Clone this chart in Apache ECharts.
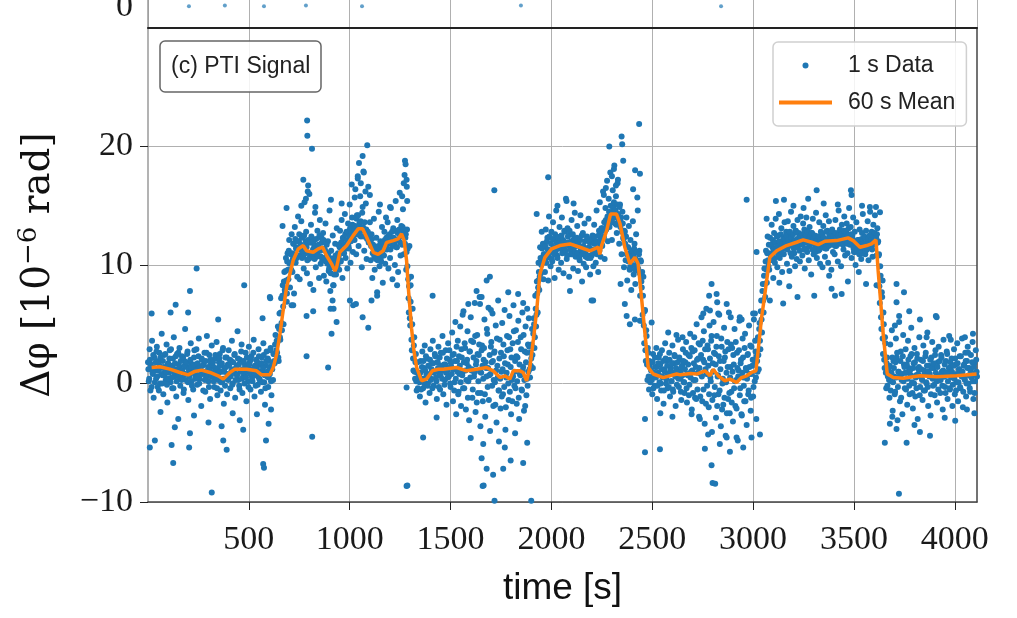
<!DOCTYPE html>
<html><head><meta charset="utf-8">
<script src="https://cdn.jsdelivr.net/npm/echarts@6/dist/echarts.min.js"></script>
<style>html,body{margin:0;padding:0;background:#fff}#c{width:1017px;height:618px}</style>
</head><body><div id="c"></div>
<script>
// ---------- data ----------
const SAMPLE_STEP = 4;   // seconds between plotted samples of the 1 s data
const FILL_OFFSET = 2;   // second pass of samples, between the first ones
const segmentStarts = [0, 640, 704, 1292, 1344, 1900, 1964, 2452, 2492, 3024, 3080, 3624, 3672];

const segBase1 = [1.8,0.2,2.9,-0.6,1.4,3.6,0.8,-1.2,2.2,1.1,0.4,3.1,-0.3,1.9,2.6,0.0,1.3,4.2,0.7,-0.9,
 2.4,1.0,0.3,3.3,-1.6,1.7,0.9,2.8,0.1,1.5,-0.4,2.1,3.9,0.6,1.2,-1.1,2.5,0.8,1.6,3.0,
 -0.2,1.1,2.3,0.5,-0.8,1.9,4.6,0.3,1.4,2.7,-1.4,0.9,1.8,3.4,0.2,1.0,-0.5,2.2,1.3,0.7,
 2.9,-0.1,1.5,3.8,0.4,1.2,-1.9,2.0,0.8,1.6,2.6,-0.7,0.5,4.0,1.1,0.2,2.4,-1.3,1.7,3.2,
 0.6,1.4,-0.3,2.1,0.9,3.5,-1.0,0.3,1.8,2.5,-0.6,1.0,0.1,3.0,-1.7,1.3,2.2,0.4,-0.9,1.6,
 2.8,0.7,-0.4,1.9,3.6,0.0,1.2,2.4,-1.2,0.8,1.5,4.4,0.3,-0.2,2.0,1.1,3.3,-0.8,0.6,1.7,
 0.9,2.6,-1.5,1.4,0.2,3.1,1.8,-0.5,2.3,0.5,1.0,3.7,-1.1,0.7,2.0,1.3,-0.1,2.9,0.4,1.6,
 -0.7,2.2,1.0,3.4,0.1,-1.8,1.5,2.7,0.6,-0.3,1.9,0.8,3.0,-1.0,1.2,0.3,2.5,1.7,4.1,2.8];
const segRise1 = [2.6,4.8,1.9,5.9,3.7,7.2,4.5,8.3,5.0,9.4,7.7,10.6,6.9,11.0,8.8,12.1];
const segHigh1 = [8.1,10.9,12.6,9.4,11.8,7.6,13.2,10.2,11.5,9.0,14.1,12.0,8.8,11.3,13.7,10.6,12.4,9.7,15.3,11.0,
 12.8,9.3,16.2,10.5,11.9,8.4,13.4,10.9,12.2,7.9,11.6,14.4,9.8,10.7,12.9,11.4,8.9,13.8,10.1,12.3,
 10.4,12.7,9.1,11.3,13.5,8.6,10.8,12.0,9.5,14.6,7.8,11.2,9.9,12.5,8.3,10.6,11.8,9.2,13.1,10.0,
 11.7,9.6,12.9,10.3,13.8,8.9,12.2,11.0,14.3,10.6,12.8,9.7,13.5,11.4,15.1,10.2,12.6,14.0,11.1,13.3,
 12.1,16.4,10.9,14.2,17.3,11.6,13.5,15.8,12.4,9.8,14.9,17.9,11.2,13.0,15.2,10.5,12.7,16.6,11.9,13.6,
 10.4,12.6,8.9,11.7,13.9,9.6,10.8,12.3,7.7,11.1,14.5,9.9,12.0,10.3,13.2,8.5,11.6,12.8,10.1,14.0,
 11.3,13.6,9.7,12.4,10.6,14.8,11.9,8.8,13.1,12.2,10.0,15.4,11.5,13.8,9.4,12.7,16.1,10.8,13.3,11.7,
 14.7,10.9,17.6,12.3,9.6,13.0,11.4];
const segDrop1 = [7.2,11.6,4.9,9.0,2.8,6.3,1.1,3.9,0.4,2.5,-0.6,1.8,0.9];
const segBase2 = [0.6,-1.1,1.9,0.2,2.7,-0.4,1.3,3.2,-1.6,0.8,2.1,0.0,1.5,-0.8,2.9,0.4,1.7,3.6,-0.2,1.0,
 2.3,0.5,-1.3,1.8,3.1,0.9,-0.5,2.6,1.2,4.0,-0.9,1.6,0.3,2.8,-1.8,1.1,3.4,0.6,2.0,-0.3,
 1.4,4.3,-1.5,2.5,0.1,5.2,-2.6,1.9,3.6,-0.7,0.8,4.8,-1.9,2.2,1.0,6.1,-0.4,3.0,-2.2,1.7,
 4.4,0.2,-3.1,2.7,5.6,1.1,-1.2,3.5,0.6,6.8,-2.4,1.9,4.1,-0.8,2.4,7.3,-3.6,0.9,3.2,-1.5,
 2.0,5.4,-2.8,1.3,4.6,-0.3,6.4,0.7,-4.0,3.1,1.8,5.9,-1.9,2.6,0.1,4.9,-3.3,1.5,7.0,-0.6,
 3.7,-2.1,1.0,5.1,-0.9,2.3,6.2,-3.9,0.5,4.0,1.6,-1.4,5.7,2.9,-2.6,0.3,3.4,6.6,-0.2,1.9,
 4.5,-1.7,2.2,5.3,-3.0,0.8,3.9,-0.5,6.0,1.4,-2.3,2.7,4.8,-1.0,0.4,3.3,5.5,1.2,2.6];
const segRise2 = [2.1,4.6,1.3,5.5,3.0,7.4,4.8,8.6,6.0,10.2,7.9,11.5,9.3,12.8,10.4,8.8];
const segHigh2 = [11.8,9.4,13.0,10.6,12.3,8.7,14.1,11.2,9.9,12.8,10.3,13.6,11.5,8.9,12.1,14.6,10.8,11.9,9.6,13.2,
 12.4,10.2,14.0,11.1,9.3,12.9,11.7,15.6,10.5,13.1,11.9,9.0,12.6,10.9,13.8,11.3,9.7,12.2,14.4,10.7,
 11.6,13.3,9.5,12.0,10.4,14.2,11.2,8.6,12.7,10.1,13.5,11.0,9.8,12.4,10.6,13.9,11.4,9.2,12.1,10.8,
 12.5,9.9,13.4,11.3,10.2,14.6,11.8,9.4,12.9,15.3,10.7,13.1,11.6,16.2,12.3,10.5,14.8,13.0,17.1,12.0,
 15.6,13.2,17.8,14.4,12.1,16.3,14.9,18.4,13.5,15.8,12.7,16.9,14.1,11.8,15.1,13.6,10.9,14.5,12.3,9.8,
 12.8,10.4,14.0,8.7,11.5,13.3,9.6,12.1,7.9,10.9,13.7,9.2,11.8,8.4,12.6,10.0,14.6,9.5,11.2,7.4,
 10.3,8.1];
const segDrop2 = [5.8,9.0,3.4,6.2,1.9,4.0,0.3,2.6,-0.5,1.4];
const segBase3 = [0.3,1.8,-0.9,2.5,0.7,-0.2,1.4,3.0,-1.3,0.9,2.2,0.1,1.6,-0.6,2.8,0.5,-1.7,1.2,3.4,0.0,
 1.9,-0.4,0.8,2.6,-1.1,1.3,0.2,3.2,-0.7,1.7,2.3,-1.9,0.6,1.1,3.7,-0.3,2.0,0.4,-1.4,1.5,
 2.9,0.1,-0.8,1.8,3.5,-1.6,0.7,2.4,-0.1,4.2,1.0,-2.2,2.7,0.3,3.9,-1.2,1.4,5.0,-0.5,2.1,
 -2.8,3.3,0.8,5.6,-1.5,2.0,4.4,-3.4,1.2,6.3,-0.2,2.9,-2.0,4.9,0.5,3.6,-4.1,1.7,5.2,-1.0,
 2.5,-2.9,4.0,0.6,-0.9,5.8,1.9,-3.6,3.1,0.0,-1.8,4.7,2.2,-4.4,0.9,3.5,-1.3,6.0,-2.5,1.4,
 -0.7,3.0,-3.2,1.6,4.6,-1.9,0.3,2.6,-4.8,1.1,5.3,-0.4,2.0,-2.7,3.8,0.5,-1.5,4.2,1.3,-3.5,
 2.4,-0.9,4.9,0.8,-2.3,3.1,1.5,-1.1,5.4,0.2,2.7,-3.0,1.9];
const segRise3 = [3.9,1.2,5.1,2.9,7.0,4.3,8.4,6.0,9.7,7.3,11.2,8.5,12.4,9.9];
const segHigh3 = [9.6,12.3,10.8,13.4,11.5,8.9,12.7,10.2,13.9,11.1,9.8,12.5,14.3,10.6,11.9,13.1,9.4,12.0,10.9,13.6,
 11.4,12.8,10.1,13.7,11.9,9.5,12.4,14.5,10.7,12.1,13.3,11.0,9.9,12.9,10.5,13.8,11.6,12.6,10.3,14.1,
 12.2,10.8,13.5,11.3,9.7,12.9,14.0,11.1,12.5,10.4,13.2,11.8,9.2,12.7,13.9,10.9,12.0,11.5,14.4,10.6,
 12.4,11.2,13.6,10.1,12.8,11.7,9.8,13.3,12.1,10.7,14.2,11.4,12.9,10.2,13.7,11.9,12.3,9.6,13.0,11.1,
 12.6,10.9,13.8,11.6,12.2,10.3,14.6,11.8,12.7,9.9,13.4,12.0,11.3,14.1,10.8,12.9,13.5,11.0,12.4,14.8,
 11.7,13.2,10.6,12.5,14.0,11.1,12.8,10.0,13.6,11.4,12.1,9.4,13.0,11.8,10.5,12.7,14.3,11.2,12.4,10.9,
 12.9,11.3,13.7,10.4,12.2,14.5,11.6,12.8,10.7,13.4,11.9,14.2,12.5,10.8,13.1,12.0];
const segDrop3 = [10.9,6.8,9.1,4.6,7.3,2.5,5.0,1.3,3.4,-0.4,2.2,0.6];
const segBase4 = [1.4,-1.2,3.3,0.2,4.5,-2.3,1.9,0.6,-0.7,3.8,2.2,-3.1,1.0,5.2,-1.5,2.7,0.3,-2.6,4.1,1.6,
 -0.4,2.9,0.9,-1.8,3.6,1.3,-0.9,2.3,4.7,0.1,-2.1,1.7,3.0,-1.1,0.7,2.5,-3.0,1.2,3.9,-0.3,
 2.0,0.4,-1.4,3.2,1.1,-0.6,2.6,0.0,4.3,-1.9,1.5,0.8,-2.7,2.2,3.5,-0.2,1.3,-1.0,2.8,0.5,
 -1.6,1.8,3.1,0.3,-0.8,2.4,1.0,-2.2,3.7,0.6,-0.3,1.9,2.7,-1.3,0.9,4.0,-0.5,1.4,2.1,-1.9,
 0.7,2.9,-0.9,1.6,0.1,3.4,-1.5,1.2,2.3,-0.4,0.8,3.8,-2.0,1.5,0.4,2.6,-1.1,1.9,3.1,0.0,
 1.3,-0.7,2.4,0.6,3.5,-1.3,1.7,0.2,2.8,1.0];

// second pass (samples 2 s later), mostly the dense core of the cloud
const fillBase1 = [1.2,0.4,2.0,1.6,-0.3,0.9,2.4,1.3,0.1,1.8,2.7,0.6,1.1,-0.6,1.5,2.2,0.8,0.0,1.9,1.4,
 0.7,2.5,1.0,-0.1,1.6,0.4,2.1,1.2,2.9,0.5,1.3,-0.4,0.9,1.7,2.3,0.2,1.0,2.6,0.6,1.4,
 1.9,0.3,1.1,2.2,-0.5,1.5,0.8,1.8,2.5,0.1,1.2,0.6,2.0,1.4,-0.2,0.9,1.6,2.8,0.4,1.1,
 0.5,1.7,2.3,0.0,1.3,0.8,2.1,1.5,-0.6,1.0,0.3,1.9,2.6,0.7,1.4,-0.3,1.1,2.0,0.6,1.6,
 1.8,0.2,1.0,2.4,0.5,-0.4,1.3,0.9,2.1,1.5,0.1,1.7,2.8,0.4,1.0,-0.2,1.4,2.2,0.8,0.3,
 1.5,2.0,0.6,1.1,-0.1,1.8,0.9,2.5,0.3,1.3,0.7,2.1,1.6,-0.5,1.0,2.7,0.4,1.2,1.9,0.0,
 1.4,0.5,2.2,1.0,-0.3,1.6,0.8,2.0,1.2,0.2,2.6,0.9,1.5,-0.2,1.1,1.8,0.6,2.3,0.3,1.0,
 1.7,0.1,1.3,2.4,0.7,-0.4,1.9,1.0,2.1,0.5,1.4,2.8,0.2,1.2,1.6,2.5,1.9,3.3,2.4,3.6];
const fillRise1 = [3.5,2.2,4.6,3.9,6.0,5.1,7.4,6.5,8.6,7.9,9.5,8.7,10.3,9.6,11.2,10.1];
const fillHigh1 = [10.2,9.6,11.0,10.5,11.8,10.9,12.2,11.4,10.6,12.0,11.3,12.6,10.8,11.7,12.3,11.1,10.7,12.5,11.6,12.0,
 11.5,10.4,12.1,11.0,10.6,11.9,12.4,10.9,11.3,12.0,10.5,11.6,12.2,11.1,10.8,11.7,12.5,11.2,10.7,11.9,
 11.4,12.1,10.6,11.2,10.3,11.7,10.1,11.0,9.7,10.6,9.3,10.2,9.8,10.5,9.2,10.0,10.8,9.6,10.3,11.0,
 10.8,11.5,10.4,11.9,11.2,12.3,11.0,11.7,12.6,11.4,12.1,12.8,11.6,12.4,13.1,12.0,12.7,13.4,12.2,12.9,
 13.3,12.6,13.9,12.8,14.2,13.1,12.5,13.7,12.9,14.4,13.2,12.4,13.6,12.7,13.0,12.2,12.8,11.9,12.5,12.0,
 11.6,12.2,11.0,11.5,10.7,11.3,10.5,11.1,10.4,11.6,10.9,11.2,10.6,11.8,11.0,11.5,10.8,12.1,11.4,12.3,
 11.7,12.4,11.9,12.6,11.3,12.0,12.8,11.6,12.3,11.8,12.9,12.1,11.5,12.7,12.2,13.0,11.9,12.5,12.8,13.2,
 12.4,13.0,11.8,12.6,11.1,9.9,8.8];
const fillDrop1 = [8.2,5.5,6.9,3.7,5.0,2.1,3.2,1.0,1.8,0.2,0.9,-0.4,0.5];
const fillBase2 = [0.1,0.9,-0.5,1.4,0.4,1.9,0.0,1.1,2.3,0.6,-0.2,1.5,0.8,2.0,0.3,1.2,-0.4,1.7,0.9,2.5,
 1.0,0.2,1.8,1.3,-0.3,2.2,0.7,1.5,0.4,2.6,1.1,-0.1,1.6,0.9,2.1,0.5,1.3,2.8,0.0,1.7,
 0.8,2.4,1.2,-0.6,1.9,0.4,3.1,1.0,-0.9,2.3,1.5,0.1,2.9,0.7,-0.4,1.8,3.4,1.1,0.3,2.0,
 -1.2,1.4,2.7,0.5,3.6,1.2,-0.5,2.2,0.9,4.0,1.6,-1.6,2.5,0.2,3.3,1.0,-0.8,2.8,1.5,0.4,
 3.0,-0.9,1.8,0.6,4.2,1.3,-1.4,2.4,0.8,3.5,-0.2,1.9,0.3,2.7,-1.8,1.1,3.8,0.5,-0.6,2.1,
 0.4,2.6,-1.1,1.2,3.3,-0.3,1.7,-2.0,0.9,2.8,0.0,3.9,-0.7,1.4,2.2,-1.5,0.6,4.4,1.0,-0.4,
 2.3,0.2,3.5,-1.2,1.6,0.7,2.9,-0.6,1.1,4.1,0.3,-1.9,1.8,2.6,-0.2,1.0,3.1,0.5,1.5];
const fillRise2 = [3.3,2.4,4.2,5.0,3.9,6.3,5.8,7.6,8.1,9.4,9.0,10.6,10.0,11.4,11.8,10.9];
const fillHigh2 = [10.9,11.6,10.2,12.0,11.3,10.7,12.4,11.1,11.8,10.5,12.2,11.5,10.9,12.6,11.2,11.9,10.6,12.3,11.4,12.0,
 11.7,12.5,11.0,12.1,11.4,12.8,11.2,11.9,10.8,12.4,11.6,12.9,11.3,12.0,10.9,12.6,11.5,12.2,11.1,11.8,
 12.3,11.0,11.7,10.6,12.1,11.3,12.5,10.9,11.6,11.2,12.0,10.7,11.4,12.2,10.8,11.5,11.9,10.6,11.3,12.1,
 11.0,11.8,12.4,11.3,12.0,10.9,11.6,12.5,11.2,12.1,12.8,11.7,13.1,12.4,13.6,12.9,13.8,13.3,14.1,13.6,
 14.5,13.8,15.0,14.2,13.6,14.8,15.3,14.0,14.6,13.4,15.1,14.3,13.8,14.9,13.2,14.0,12.8,13.5,12.2,12.9,
 11.8,12.4,10.9,11.5,10.3,11.0,9.8,10.6,11.2,10.0,10.8,11.4,9.6,10.5,11.1,10.2,9.7,10.9,9.3,10.4,
 8.6,9.4];
const fillDrop2 = [7.4,4.9,6.1,2.8,4.5,1.6,3.0,0.6,1.9,0.1];
const fillBase3 = [1.1,0.3,1.8,-0.4,0.9,2.2,0.5,1.4,-0.2,1.7,0.7,2.5,0.0,1.2,0.6,1.9,-0.6,1.0,2.1,0.4,
 1.5,0.8,-0.3,2.0,1.1,0.2,1.7,-0.5,0.9,2.4,0.6,1.3,-0.1,1.8,0.4,2.2,1.0,-0.7,1.4,0.7,
 1.9,0.1,1.2,2.6,-0.4,0.8,1.6,-1.0,2.3,0.5,3.0,1.1,-0.8,1.7,2.8,0.3,-1.3,2.0,0.9,3.4,
 1.3,-1.1,2.4,0.6,3.6,-0.5,1.8,2.9,-1.7,0.8,3.2,1.5,-0.9,2.1,0.2,4.0,-1.4,1.0,2.6,-0.3,
 1.6,3.1,-1.9,0.7,2.3,-0.6,1.2,3.8,-2.2,0.4,1.9,-1.2,2.7,0.1,-2.5,1.4,2.9,-0.8,0.5,3.3,
 -1.6,1.0,2.4,-0.4,0.2,3.5,-2.1,1.3,0.6,2.8,-1.0,1.7,-2.6,0.9,2.2,-0.2,3.0,-1.5,1.1,0.4,
 2.5,-0.6,1.4,3.2,-1.2,0.8,2.0,-0.3,1.6,3.6,0.5,2.3,1.0];
const fillRise3 = [2.4,4.6,3.6,6.1,5.4,7.8,7.0,9.1,8.4,10.3,9.6,11.0,10.4,11.7];
const fillHigh3 = [11.0,10.4,11.7,10.9,12.1,11.3,10.6,11.9,11.2,12.4,11.6,10.8,12.0,11.4,12.6,11.1,11.8,12.3,11.5,12.2,
 11.9,12.5,11.3,12.1,11.6,12.8,11.0,12.3,11.7,12.6,11.4,12.0,12.9,11.5,12.2,11.8,12.7,11.2,12.4,11.9,
 12.6,11.7,12.3,13.0,11.9,12.5,11.4,12.8,12.1,11.6,12.4,11.9,12.7,11.3,12.2,11.8,12.5,11.1,12.0,11.6,
 11.9,12.4,11.3,12.1,11.7,12.6,11.5,12.3,12.0,11.4,12.8,11.8,12.2,11.6,12.5,12.0,11.7,12.9,11.9,12.4,
 12.1,11.6,12.7,12.3,11.8,12.5,12.0,13.0,11.9,12.6,12.2,11.7,12.9,12.4,12.0,12.8,11.8,12.5,13.1,12.3,
 12.0,12.6,11.7,12.2,11.4,11.9,11.1,12.0,11.6,11.3,12.1,10.9,11.7,11.4,12.2,11.0,11.8,11.5,12.3,11.2,
 11.9,11.4,12.2,11.6,12.5,11.8,12.1,11.3,12.4,12.0,12.7,11.7,12.3,12.6,11.9,10.8];
const fillDrop3 = [8.2,9.9,5.6,7.7,3.8,6.0,2.0,3.9,0.9,1.7,-0.2,1.2];
const fillBase4 = [0.3,1.5,-0.6,0.9,2.2,0.1,1.3,-0.9,1.8,0.5,2.6,-0.3,1.0,0.6,1.9,-1.2,0.8,2.3,0.2,1.4,
 0.9,-0.5,1.6,0.4,2.0,-0.2,1.1,0.7,2.5,-0.8,1.3,0.0,1.8,0.5,-0.4,2.1,0.8,1.4,-1.0,0.6,
 1.2,0.3,1.9,-0.6,0.8,2.3,0.1,1.5,-0.3,1.0,0.6,2.0,-0.9,1.3,0.4,1.7,-0.1,2.4,0.9,0.2,
 1.4,-0.5,0.7,1.9,0.3,2.2,-0.2,1.1,0.6,1.6,-0.8,0.9,2.5,0.2,1.3,-0.4,1.8,0.5,1.0,-0.1,
 1.5,0.4,2.1,-0.6,0.8,1.7,0.1,1.2,-0.3,2.3,0.6,1.0,-0.7,1.6,0.3,1.9,0.0,1.3,2.6,0.7,
 -0.4,1.1,0.5,1.8,0.2,1.4,-0.8,0.9,2.0,0.6];

const segmentValues = [segBase1, segRise1, segHigh1, segDrop1, segBase2, segRise2, segHigh2,
  segDrop2, segBase3, segRise3, segHigh3, segDrop3, segBase4];
const fillValues = [fillBase1, fillRise1, fillHigh1, fillDrop1, fillBase2, fillRise2, fillHigh2,
  fillDrop2, fillBase3, fillRise3, fillHigh3, fillDrop3, fillBase4];

// individually read outlying points of the 1 s data
const outlierTimes = [9,34,117,125,204,208,316,373,390,472,571,575,585,133,18,112,137,199,208,241,348,477,568,604,606,
 62,150,228,300,365,420,455,540,598,610,
 789,790,813,770,794,783,687,667,907,1046,1064,1087,1274,1277,1282,1283,1285,689,720,819,918,915,920,1001,1017,1064,1108,1136,1235,712,786,905,910,935,893,814,786,1031,1092,1040,1055,1070,1078,1100,1010,1025,760,800,830,960,1260,1268,1150,1200,
 1282,1282,1302,1293,1411,1286,1717,1695,1679,1629,1588,1654,1646,1786,1835,1860,1364,1431,1662,1654,1659,1679,1711,1769,1798,1761,1860,1718,1900,1664,1600,1740,1820,1880,1560,1700,1880,
 2435,2348,2351,2287,2356,2439,1984,2075,1927,2426,1935,2092,2207,2343,2364,2373,2439,2199,2389,2414,2447,2300,2310,2320,2330,2270,2260,2405,2415,2030,2110,
 2464,2464,2538,2579,2794,2782,2819,2822,2786,2753,2869,2827,2968,3009,2943,2889,2761,2794,2799,2812,2835,2885,2951,2869,2918,2992,3034,2777,2736,2695,2497,3000,2934,2540,2600,2650,2620,
 3315,3485,3488,3113,3153,3273,3579,3609,3629,3067,3017,3083,3149,3179,3220,3303,3389,3439,3406,3377,3612,3642,3200,3350,3420,3540,3250,3130,3470,3560,
 3711,3748,3711,3774,3910,3827,3724,3906,3703,4050,3653,3723,3761,3877,3827,3678,3711,4002,4097,3690,3800,3950,4060,3860,3980,4090];
const outlierValues = [-5.4,-4.8,-5.2,-6.7,-5.4,-4.2,-9.2,-4.8,-5.6,-3.9,-6.8,-7.1,-4.8,-3.7,5.9,6.0,6.65,6.0,7.8,9.7,5.4,8.3,5.5,7.3,7.2,
 -2.4,-3.0,-2.7,-3.3,-3.6,-2.5,-3.1,-2.6,-3.4,-2.2,
 22.2,20.9,19.8,17.2,16.7,15.6,14.8,13.3,15.5,18.6,19.2,20.1,18.8,18.5,17.2,16.6,15.4,7.6,6.6,6.1,8.3,7.0,6.3,7.0,6.6,5.6,7.0,7.4,8.3,6.6,5.7,6.3,4.2,5.2,1.35,-4.5,2.3,6.7,4.7,17.5,16.9,17.8,16.2,15.9,16.8,15.7,15.0,16.0,14.9,15.2,15.8,16.9,15.1,14.9,
 -8.65,-0.34,8.3,6.0,7.4,-8.6,16.3,9.0,8.7,7.8,6.7,7.3,6.7,7.7,7.55,6.8,-4.56,-2.87,-5.1,-6.3,-8.65,-7.2,-7.7,-5.4,-6.5,-7.2,-6.7,-9.9,-9.9,-8.6,-4.6,-4.9,-4.2,-5.0,5.8,6.2,6.3,
 21.9,20.85,20.2,20.0,18.8,17.7,17.4,15.4,14.3,15.7,8.7,7.8,7.0,8.4,6.7,5.7,5.3,7.0,5.0,5.4,5.3,17.5,18.1,16.7,17.2,16.5,15.9,16.4,18.0,15.0,15.2,
 -3.0,-5.8,-5.55,4.3,8.4,7.4,7.55,6.85,6.15,5.9,6.7,5.9,15.5,5.9,5.4,5.6,-5.5,-6.9,-8.4,-8.45,-5.1,-5.75,-5.4,-4.56,-4.56,-4.56,-4.3,-4.3,-3.0,-2.6,5.15,5.9,5.6,-2.5,-2.8,3.9,4.1,
 16.3,16.3,15.9,15.4,15.5,15.6,14.9,14.9,14.45,13.9,11.1,7.0,6.76,8.2,7.3,7.4,8.0,7.55,7.4,9.1,8.3,8.7,15.0,15.2,15.1,15.0,14.8,8.5,8.6,8.4,
 8.4,7.7,6.85,6.1,5.6,5.4,5.7,5.7,4.9,3.9,-5.0,-9.3,-5.0,-4.4,-4.1,-3.4,-3.85,-3.15,-2.5,-2.8,-3.5,-2.9,-2.2,3.9,3.7,4.2];

// 60 s running mean (orange line)
const meanTimes = [18,59,108,158,199,232,266,307,348,373,406,431,489,538,563,604,621,638,654,670,687,720,745,770,786,819,844,866,885,910,927,935,951,985,1017,1042,1064,1084,1117,1141,1166,1183,1216,1240,1257,1270,1282,1292,1307,1318,1332,1356,1381,1410,1440,1464,1530,1580,1629,1679,1711,1745,1769,1794,1811,1844,1860,1877,1893,1910,1927,1943,1968,2001,2042,2092,2141,2191,2232,2240,2249,2274,2293,2323,2340,2364,2389,2414,2430,2447,2464,2480,2505,2554,2621,2640,2690,2720,2761,2786,2802,2827,2860,2885,2918,2943,2968,2992,3014,3025,3042,3054,3067,3083,3117,3166,3216,3248,3290,3323,3356,3414,3471,3496,3530,3563,3587,3609,3620,3632,3645,3665,3695,3744,3827,3910,4009,4108];
const meanValues = [1.35,1.41,1.21,0.93,0.73,1.02,1.13,0.93,0.65,0.37,0.93,1.21,1.21,1.07,0.73,0.73,1.35,2.48,4.17,6.15,8.1,10.4,11.36,11.64,11.2,11.07,11.36,11.5,10.8,10.1,9.5,9.8,11.07,11.64,12.48,13.05,13.05,12.34,11.07,10.9,11.2,11.9,12.06,12.2,12.63,12.06,10.37,7.8,4.6,2.8,1.35,0.23,0.37,1.07,1.2,1.2,1.35,1.07,1.2,1.35,1.07,0.5,0.65,0.37,1.07,1.07,0.93,0.23,1.35,3.6,6.15,9.25,10.65,11.36,11.64,11.78,11.5,11.2,11.5,10.9,11.64,12.9,14.3,14.3,13.5,11.5,10.1,10.65,10.1,7.2,4.2,1.35,0.8,0.5,0.8,0.73,0.85,0.8,1.07,0.65,1.2,0.65,0.23,0.37,0.08,0.5,0.65,0.93,1.07,2.77,5.58,7.0,8.68,10.65,11.2,11.64,11.92,12.12,11.92,11.72,12.0,12.06,12.29,12.06,11.5,11.64,11.78,12.12,9.5,7.0,4.17,0.8,0.5,0.45,0.65,0.56,0.65,0.8];

// points of the panel above that show in the top strip
const upperTimes = [203,381,575,783,1061,1849,2841];
const upperValues = [0.1,0.2,0.1,0.2,0.1,0.2,0.1];

// axis ticks
const xTickLabels = [500,1000,1500,2000,2500,3000,3500,4000];
const yTickLabels = [-10,0,10,20];
const X_MAX = 4110;

// ---------- build series data ----------
const scatterData = [];
segmentValues.forEach((arr, k) => {
  arr.forEach((v, i) => scatterData.push([segmentStarts[k] + i * SAMPLE_STEP, v]));
});
fillValues.forEach((arr, k) => {
  arr.forEach((v, i) => scatterData.push([segmentStarts[k] + FILL_OFFSET + i * SAMPLE_STEP, v]));
});
outlierTimes.forEach((t, i) => scatterData.push([t, outlierValues[i]]));
const meanData = meanTimes.map((t, i) => [t, meanValues[i]]);
const upperData = upperTimes.map((t, i) => [t, upperValues[i]]);

const SERIF = '"Liberation Serif", "DejaVu Serif", serif';
const SANS = '"Liberation Sans", Arial, sans-serif';
const GRID_C = '#b0b0b0';

const chart = echarts.init(document.getElementById('c'), null, {renderer: 'canvas'});
chart.setOption({
  animation: false,
  backgroundColor: '#ffffff',
  title: {
    text: '(c) PTI Signal', left: 160, top: 41,
    padding: [14, 11, 13, 11],
    borderColor: '#666', borderWidth: 1.5, borderRadius: 5,
    backgroundColor: 'rgba(255,255,255,0.85)',
    textStyle: {fontFamily: SANS, fontSize: 23, fontWeight: 'normal', color: '#222', lineHeight: 24}
  },
  legend: {
    data: [{name: '1 s Data', icon: 'circle'}, {name: '60 s Mean', icon: 'path://M0,0H53V4H0Z'}],
    orient: 'vertical', left: 773, top: 42,
    padding: [12, 11, 12, 6],
    itemWidth: 53, itemHeight: 6, itemGap: 14,
    borderColor: '#d0d0d0', borderWidth: 1.5, borderRadius: 5,
    backgroundColor: 'rgba(255,255,255,0.85)',
    formatter: '{t|{name}}',
    textStyle: {rich: {t: {fontFamily: SANS, fontSize: 23, color: '#222', lineHeight: 24, padding: [0, 0, 0, 11]}}}
  },
  grid: [
    {left: 148, right: 40, top: 28, bottom: 116, outerBoundsMode: 'none', containLabel: false},
    {left: 148, right: 40, top: 0, height: 28, outerBoundsMode: 'none', containLabel: false}
  ],
  xAxis: [
    {
      gridIndex: 0, type: 'value', min: 0, max: X_MAX, interval: 500,
      name: 'time [s]', nameLocation: 'middle', nameGap: 68,
      nameTextStyle: {fontFamily: SANS, fontSize: 37, color: '#111'},
      axisLine: {show: true, onZero: false, lineStyle: {color: '#444', width: 1.5}},
      axisTick: {show: true, inside: false, length: 8, customValues: xTickLabels, lineStyle: {color: '#222', width: 1}},
      axisLabel: {
        margin: 21, fontFamily: SERIF, fontSize: 34, color: '#1a1a1a',
        customValues: xTickLabels,
        formatter: v => String(v)
      },
      splitLine: {show: true, lineStyle: {color: GRID_C, width: 1}}
    },
    {
      gridIndex: 1, type: 'value', min: 0, max: X_MAX, interval: 500,
      axisLine: {show: true, onZero: false, lineStyle: {color: '#222', width: 2}},
      axisTick: {show: false}, axisLabel: {show: false},
      splitLine: {show: true, lineStyle: {color: GRID_C, width: 1}}
    }
  ],
  yAxis: [
    {
      gridIndex: 0, type: 'value', min: -10, max: 30, interval: 10,
      name: '{a|\u0394\u03c6 [10}{s|\u22126}{a| rad]}', nameLocation: 'middle', nameGap: 86, nameRotate: 90,
      nameTextStyle: {
        rich: {
          a: {fontFamily: '"DejaVu Serif", serif', fontSize: 39, color: '#111', lineHeight: 46},
          s: {fontFamily: '"DejaVu Serif", serif', fontSize: 26, color: '#111', lineHeight: 26, verticalAlign: 'top'}
        }
      },
      axisLine: {show: true, onZero: false, lineStyle: {color: '#9a9a9a', width: 1.5}},
      axisTick: {show: true, inside: false, length: 8, customValues: yTickLabels, lineStyle: {color: '#222', width: 1}},
      axisLabel: {
        margin: 15, fontFamily: SERIF, fontSize: 34, color: '#1a1a1a',
        customValues: yTickLabels,
        formatter: v => String(v).replace('-', '\u2212')
      },
      splitLine: {show: true, lineStyle: {color: GRID_C, width: 1}}
    },
    {
      gridIndex: 0, type: 'value', min: -10, max: 30, interval: 10, position: 'right',
      axisLine: {show: true, onZero: false, lineStyle: {color: '#444', width: 1.5}},
      axisTick: {show: false}, axisLabel: {show: false}, splitLine: {show: false}
    },
    {
      gridIndex: 1, type: 'value', min: -3, max: 1, interval: 1,
      axisLine: {show: true, onZero: false, lineStyle: {color: '#9a9a9a', width: 1.5}},
      axisTick: {show: false}, splitLine: {show: false},
      axisLabel: {margin: 15, fontFamily: SERIF, fontSize: 34, color: '#1a1a1a',
        formatter: v => v === 0 ? '0' : ''}
    }
  ],
  series: [
    {
      name: '1 s Data', type: 'scatter', xAxisIndex: 0, yAxisIndex: 0,
      data: scatterData, symbol: 'circle', symbolSize: 6,
      itemStyle: {color: '#1f77b4', opacity: 1}, z: 2
    },
    {
      name: '60 s Mean', type: 'line', xAxisIndex: 0, yAxisIndex: 0,
      data: meanData, symbol: 'none', showSymbol: false,
      lineStyle: {color: '#ff7f0e', width: 3.5}, itemStyle: {color: '#ff7f0e'}, z: 3
    },
    {
      name: 'upper panel', type: 'scatter', xAxisIndex: 1, yAxisIndex: 2,
      data: upperData, symbol: 'circle', symbolSize: 4,
      itemStyle: {color: '#1f77b4', opacity: 0.7}, silent: true, z: 2
    }
  ]
});
</script></body></html>
